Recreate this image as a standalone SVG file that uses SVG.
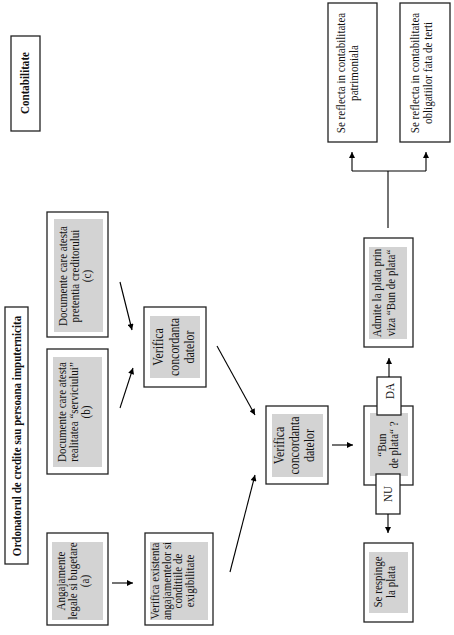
<svg xmlns="http://www.w3.org/2000/svg" width="454" height="635" viewBox="0 0 454 635">
<defs>
<marker id="ah" viewBox="0 0 10 10" refX="10" refY="5" markerWidth="7" markerHeight="6" markerUnits="userSpaceOnUse" orient="auto"><path d="M0,0 L10,5 L0,10 z" fill="#000"/></marker>
<style>
.box{fill:#fff;stroke:#222;stroke-width:1.3}
.gray{fill:#d3d3d3;stroke:none}
.t{font-family:"Liberation Serif","Times New Roman",serif;font-size:13px;fill:#111;text-anchor:middle}
.t14{font-size:14px}
.b{font-weight:bold}
.c{fill:none;stroke:#000;stroke-width:1.1}
</style>
</defs>
<rect width="454" height="635" fill="#fff"/>

<g id="title">
<rect class="box" x="5" y="307" width="23" height="257"/>
<text class="t b" transform="translate(0,436) rotate(-90) scale(0.85,1)"><tspan x="0" y="21.5">Ordonatorul de credite sau persoana imputernicita</tspan></text>
</g>

<g id="contabilitate">
<rect class="box" x="11" y="36" width="29" height="95"/>
<text class="t b" transform="translate(0,83) rotate(-90) scale(0.85,1)"><tspan x="0" y="29.5">Contabilitate</tspan></text>
</g>

<g id="doc-c">
<rect class="box" x="47" y="212" width="61" height="125"/>
<rect class="gray" x="54" y="219" width="49" height="113"/>
<text class="t" transform="translate(0,276) rotate(-90) scale(0.85,1)"><tspan x="0" y="67.5">Documente care atesta</tspan><tspan x="0" y="79.5">pretentia creditorului</tspan><tspan x="0" y="91.5">(c)</tspan></text>
</g>

<g id="doc-b">
<rect class="box" x="47" y="349" width="61" height="125"/>
<rect class="gray" x="53" y="357" width="49" height="110"/>
<text class="t" transform="translate(0,412) rotate(-90) scale(0.85,1)"><tspan x="0" y="66.5">Documente care atesta</tspan><tspan x="0" y="78.5">realitatea “serviciului”</tspan><tspan x="0" y="90.5">(b)</tspan></text>
</g>

<g id="angaj-a">
<rect class="box" x="47" y="533" width="61" height="92"/>
<rect class="gray" x="52" y="542" width="51" height="78"/>
<text class="t" transform="translate(0,581) rotate(-90) scale(0.85,1)"><tspan x="0" y="65.5">Angajamente</tspan><tspan x="0" y="77.5">legale si bugetare</tspan><tspan x="0" y="89.5">(a)</tspan></text>
</g>

<g id="verif-exist">
<rect class="box" x="145" y="533" width="68" height="92"/>
<rect class="gray" x="150" y="542" width="58" height="78"/>
<text class="t" transform="translate(0,581) rotate(-90) scale(0.85,1)"><tspan x="0" y="159.5">Verifica existenta</tspan><tspan x="0" y="171">angajamentelor si</tspan><tspan x="0" y="182.5">conditiile de</tspan><tspan x="0" y="194">exigibilitate</tspan></text>
</g>

<g id="verif-conc-1">
<rect class="box" x="144" y="307" width="62" height="80"/>
<rect class="gray" x="150" y="316" width="50" height="62"/>
<text class="t t14" transform="translate(0,347) rotate(-90) scale(0.85,1)"><tspan x="0" y="163.5">Verifica</tspan><tspan x="0" y="179">concordanta</tspan><tspan x="0" y="194.5">datelor</tspan></text>
</g>

<g id="verif-conc-2">
<rect class="box" x="266" y="406" width="62" height="78"/>
<rect class="gray" x="272" y="414" width="51" height="63"/>
<text class="t t14" transform="translate(0,445.5) rotate(-90) scale(0.85,1)"><tspan x="0" y="284.5">Verifica</tspan><tspan x="0" y="299.5">concordanta</tspan><tspan x="0" y="314.5">datelor</tspan></text>
</g>

<g id="bun-de-plata">
<rect class="box" x="364" y="406" width="49" height="79"/>
<rect class="gray" x="370" y="413" width="38" height="63"/>
<text class="t" transform="translate(0,445) rotate(-90) scale(0.85,1)"><tspan x="0" y="386.5">“Bun</tspan><tspan x="0" y="398.5">de plata“ ?</tspan></text>
<rect class="box" x="377" y="377" width="24" height="38"/>
<text class="t" transform="translate(0,391) rotate(-90) scale(0.85,1)"><tspan x="0" y="394.5">DA</tspan></text>
<rect class="box" x="376" y="474" width="24" height="40"/>
<text class="t" transform="translate(0,494) rotate(-90) scale(0.85,1)"><tspan x="0" y="392.5">NU</tspan></text>
</g>

<g id="respinge">
<rect class="box" x="364" y="543" width="49" height="79"/>
<rect class="gray" x="369" y="552" width="39" height="61"/>
<text class="t" transform="translate(0,582) rotate(-90) scale(0.85,1)"><tspan x="0" y="382.5">Se respinge</tspan><tspan x="0" y="395.5">la plata</tspan></text>
</g>

<g id="admite">
<rect class="box" x="364" y="238" width="49" height="109"/>
<rect class="gray" x="369" y="247" width="38" height="92"/>
<text class="t" transform="translate(0,293) rotate(-90) scale(0.85,1)"><tspan x="0" y="381.5">Admite la plata prin</tspan><tspan x="0" y="395.5">viza “Bun de plata“</tspan></text>
</g>

<g id="patrimoniala">
<rect class="box" x="328" y="3" width="49" height="139"/>
<text class="t" transform="translate(0,73) rotate(-90) scale(0.85,1)"><tspan x="0" y="345.5">Se reflecta in contabilitatea</tspan><tspan x="0" y="358.5">patrimoniala</tspan></text>
</g>

<g id="terti">
<rect class="box" x="400" y="3" width="50" height="139"/>
<text class="t" transform="translate(0,73) rotate(-90) scale(0.85,1)"><tspan x="0" y="419.5">Se reflecta in contabilitatea</tspan><tspan x="0" y="432.5">obligatiilor fata de terti</tspan></text>
</g>

<g id="connectors">
<line class="c" x1="120" y1="282" x2="132" y2="330" marker-end="url(#ah)"/>
<line class="c" x1="120" y1="408" x2="133" y2="368" marker-end="url(#ah)"/>
<line class="c" x1="112" y1="583" x2="133" y2="583" marker-end="url(#ah)"/>
<line class="c" x1="217" y1="346" x2="255" y2="415" marker-end="url(#ah)"/>
<line class="c" x1="230" y1="572" x2="255" y2="475" marker-end="url(#ah)"/>
<line class="c" x1="332" y1="445" x2="353" y2="445" marker-end="url(#ah)"/>
<line class="c" x1="388" y1="514" x2="388" y2="533" marker-end="url(#ah)"/>
<line class="c" x1="389" y1="377" x2="389" y2="358" marker-end="url(#ah)"/>
<polyline class="c" points="388,228 388,171"/>
<polyline class="c" points="352,171 426,171"/>
<line class="c" x1="352" y1="171" x2="352" y2="152" marker-end="url(#ah)"/>
<line class="c" x1="426" y1="171" x2="426" y2="152" marker-end="url(#ah)"/>
</g>
</svg>
